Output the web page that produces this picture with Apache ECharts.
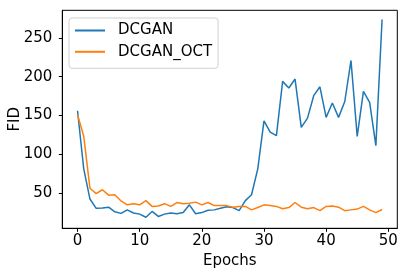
<!DOCTYPE html>
<html>
<head>
<meta charset="utf-8">
<script src="https://cdn.jsdelivr.net/npm/echarts@6/dist/echarts.min.js"></script>
<style>
html,body{margin:0;padding:0;background:#fff;}
#chart{width:407px;height:276px;}
</style>
</head>
<body>
<div id="chart"></div>
<script>
var epochs = [];
for (var i = 0; i < 50; i++) epochs.push(i);
var dcgan = [156, 81, 42, 30, 30.5, 31.5, 25.5, 23.5, 28, 24, 22.5, 18.5, 26, 19.5, 22.5, 24, 23, 24.5, 34.5, 23,
  24.5, 27.5, 28, 30, 32, 31, 27, 40, 47.5, 81, 143, 128.5, 124, 194, 185.5, 197, 134.5, 146.5, 175.5, 187,
  147.5, 166, 147.5, 168, 221, 123, 181, 167, 111, 274];
var dcganOct = [151, 123, 56, 49, 54, 47, 47.5, 39.5, 34.5, 36, 34.5, 40, 32.5, 33, 36, 32.5, 37.5, 36, 36.5, 38,
  34.5, 37.5, 33.5, 33.5, 33.5, 31.5, 32.5, 32.5, 28, 31, 34.5, 33.5, 32.5, 29.5, 31, 37.5, 31.5, 29.5, 31, 27,
  32.5, 33, 31.5, 27, 28, 29, 32.5, 28, 24.5, 28.5];
var xTicks = [0, 10, 20, 30, 40, 50];
var yTicks = [50, 100, 150, 200, 250];
var seriesNames = ['DCGAN', 'DCGAN_OCT'];

function pairs(ys) { return epochs.map(function (x, i) { return [x, ys[i]]; }); }

var font = 'DejaVu Sans';
var chart = echarts.init(document.getElementById('chart'), null, {renderer: 'canvas'});
chart.setOption({
  animation: false,
  backgroundColor: '#fff',
  grid: {left: 62.3, right: 9.7, top: 10.3, bottom: 47.7, show: true, borderColor: '#000', borderWidth: 1,
         backgroundColor: 'transparent', containLabel: false, outerBoundsMode: 'none'},
  legend: {
    orient: 'vertical', left: 69, top: 18,
    data: seriesNames.map(function (n) { return {name: n, icon: 'rect'}; }),
    itemWidth: 30, itemHeight: 2, itemGap: 4.3,
    padding: [4, 6, 8, 6],
    borderColor: 'rgba(204,204,204,0.9)', borderWidth: 1, borderRadius: 3,
    backgroundColor: 'rgba(255,255,255,0.8)',
    textStyle: {fontFamily: font, fontSize: 15, color: '#000', lineHeight: 17, padding: [0, 0, 0, 8]}
  },
  xAxis: {
    type: 'value', min: -2.45, max: 51.45,
    name: 'Epochs', nameLocation: 'middle', nameGap: 25, nameMoveOverlap: false,
    nameTextStyle: {fontFamily: font, fontSize: 15, color: '#000'},
    splitLine: {show: false},
    axisLine: {show: true, onZero: false, lineStyle: {color: '#000', width: 1}},
    axisTick: {show: true, length: 3.5, customValues: xTicks, lineStyle: {color: '#000'}},
    axisLabel: {customValues: xTicks, fontFamily: font, fontSize: 15, color: '#000', margin: 5}
  },
  yAxis: {
    type: 'value', min: 4.2, max: 285.8,
    name: 'FID', nameLocation: 'middle', nameGap: 40, nameRotate: 90, nameMoveOverlap: false,
    nameTextStyle: {fontFamily: font, fontSize: 15, color: '#000'},
    splitLine: {show: false},
    axisLine: {show: true, onZero: false, lineStyle: {color: '#000', width: 1}},
    axisTick: {show: true, length: 3.5, customValues: yTicks, lineStyle: {color: '#000'}},
    axisLabel: {customValues: yTicks, fontFamily: font, fontSize: 15, color: '#000', margin: 10}
  },
  series: [
    {name: seriesNames[0], type: 'line', data: pairs(dcgan), showSymbol: false, symbol: 'none',
     lineStyle: {color: '#1f77b4', width: 1.5}, itemStyle: {color: '#1f77b4'}},
    {name: seriesNames[1], type: 'line', data: pairs(dcganOct), showSymbol: false, symbol: 'none',
     lineStyle: {color: '#ff7f0e', width: 1.5}, itemStyle: {color: '#ff7f0e'}}
  ]
});
</script>
</body>
</html>
